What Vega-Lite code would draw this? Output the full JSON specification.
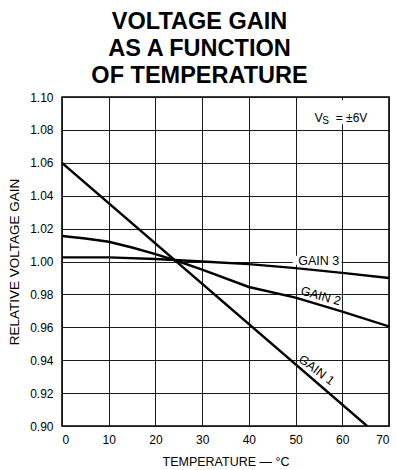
{
  "$schema": "https://vega.github.io/schema/vega-lite/v6.json",
  "width": 327,
  "height": 329,
  "autosize": "none",
  "padding": {"left": 62, "top": 97, "right": 8, "bottom": 44},
  "background": "white",
  "title": {
    "text": ["VOLTAGE GAIN", "AS A FUNCTION", "OF TEMPERATURE"],
    "font": "Liberation Sans",
    "fontSize": 23.5,
    "fontWeight": "bold",
    "lineHeight": 27,
    "anchor": "middle",
    "dx": -26,
    "offset": 4,
    "color": "black"
  },
  "config": {
    "view": {"stroke": "black", "strokeWidth": 1.6},
    "axis": {
      "labelFont": "Liberation Sans",
      "labelFontSize": 12,
      "labelColor": "black",
      "labelOverlap": false,
      "titleFont": "Liberation Sans",
      "titleFontSize": 12.5,
      "titleFontWeight": "normal",
      "titleColor": "black",
      "grid": true,
      "gridColor": "#1a1a1a",
      "gridWidth": 1,
      "gridOpacity": 1,
      "ticks": false,
      "domain": false
    }
  },
  "datasets": {
    "curves": [
      {"t": 0, "gain": 1.06, "series": "GAIN 1"},
      {"t": 65.3, "gain": 0.9, "series": "GAIN 1"},
      {"t": 0, "gain": 1.0155, "series": "GAIN 2"},
      {"t": 5, "gain": 1.014, "series": "GAIN 2"},
      {"t": 10, "gain": 1.012, "series": "GAIN 2"},
      {"t": 15, "gain": 1.0085, "series": "GAIN 2"},
      {"t": 20, "gain": 1.0045, "series": "GAIN 2"},
      {"t": 25, "gain": 1.0, "series": "GAIN 2"},
      {"t": 30, "gain": 0.995, "series": "GAIN 2"},
      {"t": 40, "gain": 0.9845, "series": "GAIN 2"},
      {"t": 50, "gain": 0.978, "series": "GAIN 2"},
      {"t": 60, "gain": 0.9695, "series": "GAIN 2"},
      {"t": 70, "gain": 0.9605, "series": "GAIN 2"},
      {"t": 0, "gain": 1.0025, "series": "GAIN 3"},
      {"t": 10, "gain": 1.0025, "series": "GAIN 3"},
      {"t": 20, "gain": 1.0015, "series": "GAIN 3"},
      {"t": 30, "gain": 1.0, "series": "GAIN 3"},
      {"t": 40, "gain": 0.9984, "series": "GAIN 3"},
      {"t": 50, "gain": 0.996, "series": "GAIN 3"},
      {"t": 60, "gain": 0.9931, "series": "GAIN 3"},
      {"t": 70, "gain": 0.99, "series": "GAIN 3"}
    ],
    "masks": [
      {"x1": 49.4, "x2": 59.85, "y1": 0.998, "y2": 1.0035},
      {"x1": 53.5, "x2": 66.5, "y1": 1.0835, "y2": 1.098}
    ]
  },
  "layer": [
    {
      "data": {"name": "masks"},
      "mark": {"type": "rect", "color": "white"},
      "encoding": {
        "x": {
          "field": "x1",
          "type": "quantitative",
          "scale": {"domain": [0, 70], "nice": false},
          "axis": {
            "values": [0, 10, 20, 30, 40, 50, 60, 70],
            "tickCount": 10,
            "labelPadding": 8,
            "title": "TEMPERATURE  —   °C",
            "titlePadding": 10
          }
        },
        "x2": {"field": "x2"},
        "y": {
          "field": "y1",
          "type": "quantitative",
          "scale": {"domain": [0.9, 1.1], "nice": false, "zero": false},
          "axis": {
            "values": [0.9, 0.92, 0.94, 0.96, 0.98, 1.0, 1.02, 1.04, 1.06, 1.08, 1.1],
            "tickCount": 12,
            "format": ".2f",
            "labelPadding": 9,
            "title": "RELATIVE VOLTAGE GAIN",
            "titleFontSize": 13.5,
            "titlePadding": 8
          }
        },
        "y2": {"field": "y2"}
      }
    },
    {
      "data": {"name": "curves"},
      "mark": {"type": "line", "color": "black", "strokeWidth": 2.4, "clip": true},
      "encoding": {
        "x": {"field": "t", "type": "quantitative"},
        "y": {"field": "gain", "type": "quantitative"},
        "detail": {"field": "series"}
      }
    },
    {
      "data": {"values": [{"t": 54.95, "gain": 1.0006, "label": "GAIN 3"}]},
      "mark": {"type": "text", "font": "Liberation Sans", "fontSize": 12.5, "color": "black"},
      "encoding": {
        "x": {"field": "t", "type": "quantitative"},
        "y": {"field": "gain", "type": "quantitative"},
        "text": {"field": "label"}
      }
    },
    {
      "data": {"values": [{"t": 55.4, "gain": 0.979, "label": "GAIN 2"}]},
      "mark": {"type": "text", "font": "Liberation Sans", "fontSize": 12.5, "color": "black", "angle": 16},
      "encoding": {
        "x": {"field": "t", "type": "quantitative"},
        "y": {"field": "gain", "type": "quantitative"},
        "text": {"field": "label"}
      }
    },
    {
      "data": {"values": [{"t": 54.5, "gain": 0.934, "label": "GAIN 1"}]},
      "mark": {"type": "text", "font": "Liberation Sans", "fontSize": 12.5, "color": "black", "angle": 37},
      "encoding": {
        "x": {"field": "t", "type": "quantitative"},
        "y": {"field": "gain", "type": "quantitative"},
        "text": {"field": "label"}
      }
    },
    {
      "data": {"values": [{"t": 54.97, "gain": 1.0875, "label": "V"}]},
      "mark": {"type": "text", "font": "Liberation Sans", "fontSize": 12.5, "color": "black"},
      "encoding": {
        "x": {"field": "t", "type": "quantitative"},
        "y": {"field": "gain", "type": "quantitative"},
        "text": {"field": "label"}
      }
    },
    {
      "data": {"values": [{"t": 56.45, "gain": 1.0853, "label": "S"}]},
      "mark": {"type": "text", "font": "Liberation Sans", "fontSize": 10, "color": "black"},
      "encoding": {
        "x": {"field": "t", "type": "quantitative"},
        "y": {"field": "gain", "type": "quantitative"},
        "text": {"field": "label"}
      }
    },
    {
      "data": {"values": [{"t": 58.6, "gain": 1.0875, "label": "= ±6V"}]},
      "mark": {"type": "text", "font": "Liberation Sans", "fontSize": 12, "color": "black", "align": "left"},
      "encoding": {
        "x": {"field": "t", "type": "quantitative"},
        "y": {"field": "gain", "type": "quantitative"},
        "text": {"field": "label"}
      }
    }
  ]
}
